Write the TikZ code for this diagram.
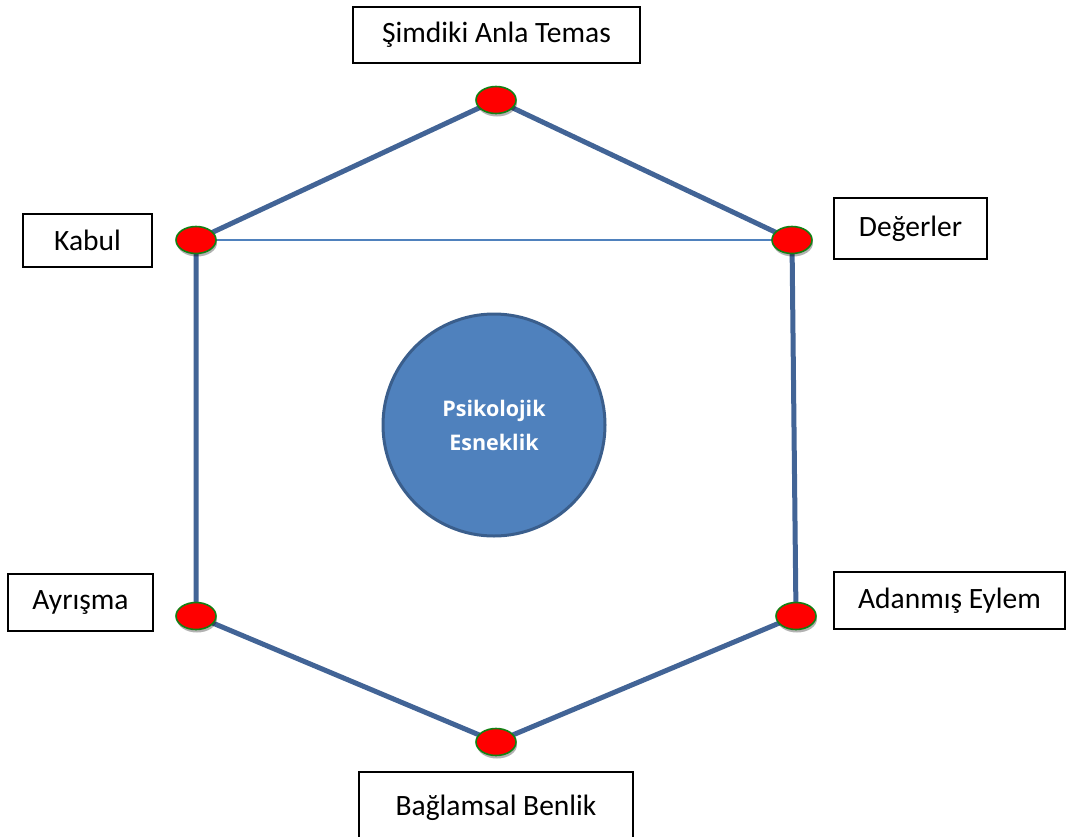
\documentclass[tikz,border=0pt]{standalone}
\usepackage{fontspec}
\setmainfont{Carlito}
\newfontfamily\circfont{Open Sans}
\usetikzlibrary{shapes.geometric,shadows,backgrounds}
\definecolor{hexblue}{RGB}{66,100,150}
\definecolor{fillblue}{RGB}{79,129,189}
\definecolor{rimblue}{RGB}{58,94,140}
\definecolor{dotgreen}{RGB}{20,128,20}
\tikzset{
  dot/.style={ellipse, draw=dotgreen, line width=1.6pt, fill=red, inner sep=0pt,
    minimum width=40pt, minimum height=27pt,
    drop shadow={shadow xshift=1pt, shadow yshift=-3pt, opacity=.3, fill=black}},
  etiket/.style={draw=black, line width=1.8pt, fill=white, inner sep=0pt,
    font=\fontsize{29.5}{34}\selectfont},
  hex/.style={draw=hexblue, line width=5pt},
}
\begin{document}
\begin{tikzpicture}[x=1pt,y=-1pt]
\useasboundingbox (0,0) rectangle (1066,836);
%
% kutular: merkez, genislik, yukseklik
\node[etiket, minimum width=287pt, minimum height=56pt] (st) at (496.5,35) {Şimdiki Anla Temas};
\node[etiket, minimum width=129pt, minimum height=53pt] (kb) at (87.5,240.5) {Kabul};
\node[etiket, minimum width=153pt, minimum height=61pt] (dg) at (910.5,228.5) {Değerler};
\node[etiket, minimum width=145pt, minimum height=57pt] (ay) at (80.5,602.5) {Ayrışma};
\node[etiket, minimum width=231pt, minimum height=57pt] (ae) at (949.5,600.5) {Adanmış Eylem};
\node[etiket, minimum width=274pt, minimum height=72pt] (bb) at (496,808) {Bağlamsal Benlik};
%
% kirmizi noktalar
\node[dot] (1) at (496,100) {};
\node[dot] (2) at (792,240) {};
\node[dot] (3) at (796,616) {};
\node[dot] (4) at (496,742) {};
\node[dot] (5) at (196,616) {};
\node[dot] (6) at (196,240) {};
%
% altigen
\begin{scope}[on background layer]
\draw[hex] (1.center) -- (2.center) -- (3.center) -- (4.center) -- (5.center) -- (6.center) -- cycle;
\draw[fillblue, line width=1.5pt] (6.center) to (2.center);
\end{scope}
%
% merkez
\node[circle, draw=rimblue, line width=3pt, fill=fillblue, minimum size=222pt,
  text=white, align=center, font=\circfont\bfseries\fontsize{21.5}{34}\selectfont] (pe) at (494,425) {Psikolojik\\Esneklik};
%
\end{tikzpicture}
\end{document}
